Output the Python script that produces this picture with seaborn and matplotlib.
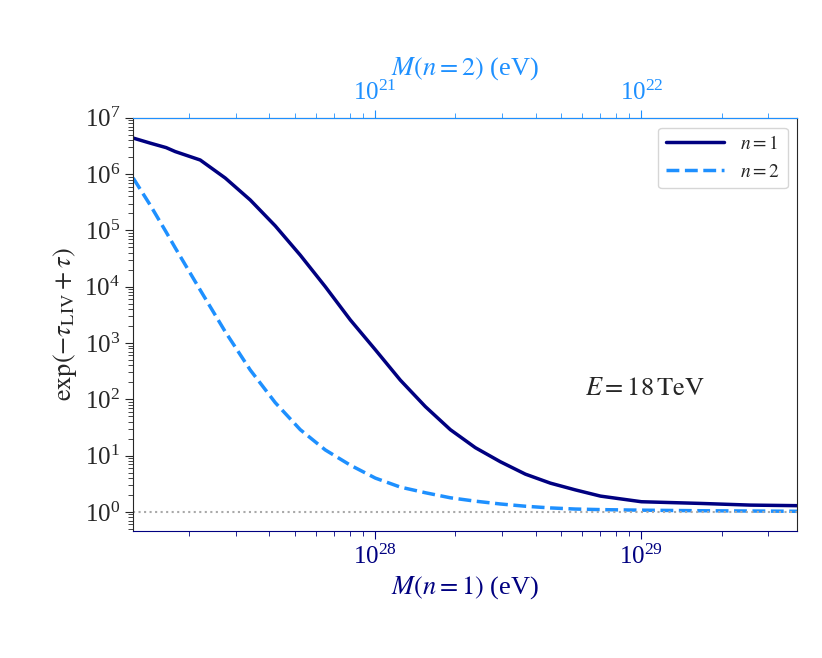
import numpy as np
import matplotlib
matplotlib.use("Agg")
import matplotlib.pyplot as plt
import seaborn as sns

sns.set_style("ticks")
plt.rcParams["font.family"] = "Liberation Serif"
plt.rcParams["mathtext.fontset"] = "stix"

# log10 of M(n=1) in eV
log_m = [27.09, 27.154, 27.214, 27.248, 27.342, 27.436, 27.53, 27.624, 27.718,
         27.812, 27.906, 28.0, 28.094, 28.188, 28.282, 28.376, 28.47, 28.564,
         28.658, 28.752, 28.846, 29.0, 29.222, 29.41, 29.586]
# log10 of exp(-tau_LIV + tau)
log_n1 = [6.64, 6.55, 6.47, 6.40, 6.25, 5.93, 5.54, 5.08, 4.56, 4.00, 3.41, 2.88,
          2.34, 1.87, 1.46, 1.14, 0.89, 0.67, 0.51, 0.39, 0.28, 0.18, 0.15, 0.12, 0.11]
log_n2 = [5.93, 5.45, 4.97, 4.69, 3.94, 3.20, 2.52, 1.94, 1.46, 1.10, 0.83, 0.60,
          0.44, 0.34, 0.25, 0.19, 0.14, 0.10, 0.07, 0.05, 0.04, 0.03, 0.02, 0.015, 0.01]

m = 10 ** np.array(log_m)
fig = plt.figure(figsize=(8.22, 6.58), dpi=100)
ax = fig.add_axes([0.162, 0.193, 0.808, 0.628])
sns.lineplot(x=m, y=10 ** np.array(log_n1), color="navy", lw=2.5, label="$n=1$", ax=ax)
sns.lineplot(x=m, y=10 ** np.array(log_n2), color="dodgerblue", lw=2.5, ls="--",
             label="$n=2$", ax=ax)
ax.axhline(1, color="darkgray", ls=":", lw=1.5)
ax.set_xscale("log")
ax.set_yscale("log")
ax.set_xlim(10 ** 27.09, 10 ** 29.586)
ax.set_ylim(10 ** -0.34, 1e7)
ax.set_yticks([10.0 ** k for k in range(8)])
ax.tick_params(labelsize=18, length=6)
ax.tick_params(which="minor", length=3.5)
ax.tick_params(axis="x", colors="navy", which="both")
ax.spines["bottom"].set_color("navy")
ax.spines["top"].set_color("dodgerblue")
ax.set_xlabel("$M(n=1)$ (eV)", fontsize=19, color="navy")
ax.set_ylabel(r"$\exp(-\tau_{\rm LIV}+\tau)$", fontsize=19)
ax.text(0.68, 0.33, r"$E=18\,\mathrm{TeV}$", transform=ax.transAxes, fontsize=19)

top = ax.secondary_xaxis("top", functions=(lambda x: x * 1e-7, lambda x: x * 1e7))
top.tick_params(labelsize=18, colors="dodgerblue", which="both", length=6)
top.tick_params(which="minor", length=3.5)
top.set_xlabel("$M(n=2)$ (eV)", fontsize=19, color="dodgerblue")

leg = ax.legend(loc="upper right", fontsize=14, handlelength=3, frameon=True)
fig.savefig("out.png", dpi=100)
